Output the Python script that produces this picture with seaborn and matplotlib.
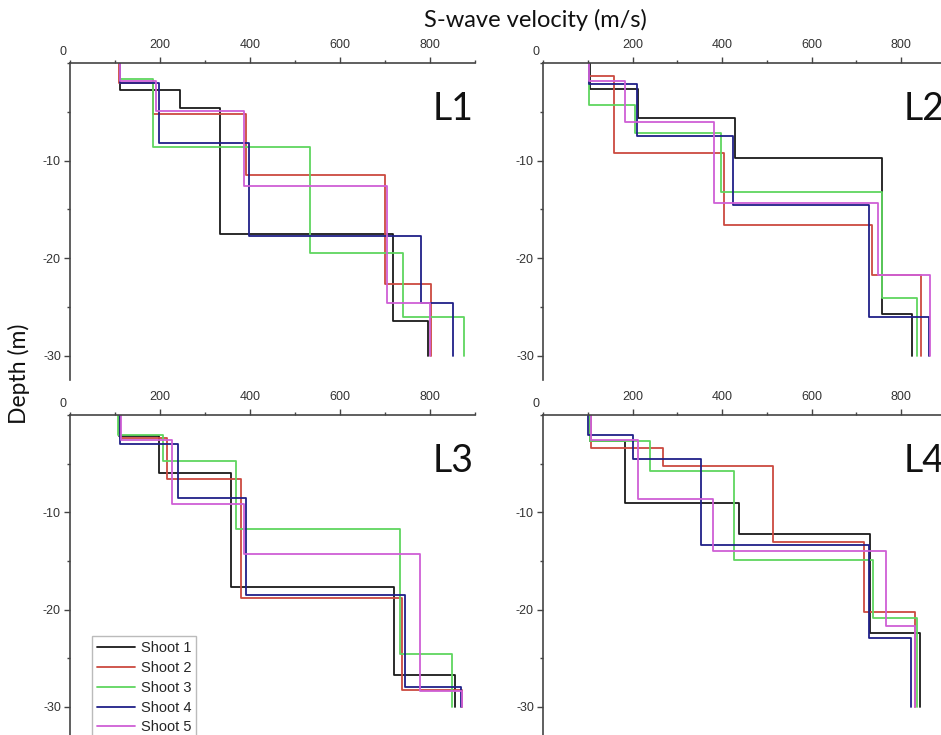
import numpy as np
import pandas as pd
import matplotlib
matplotlib.use("Agg")
import matplotlib.pyplot as plt
from matplotlib.ticker import MultipleLocator
import seaborn as sns

# -----------------------------------------------------
# DATA: layer velocities (m/s) and layer bottom depths (m)
# one row per shoot (Shoot 1..5)
# -----------------------------------------------------

SHOOTS = ["Shoot 1", "Shoot 2", "Shoot 3", "Shoot 4", "Shoot 5"]
COLORS = ["#1a1a1a", "#cc4a40", "#5fd65f", "#202088", "#cf5fd6"]
LINES = ["L1", "L2", "L3", "L4"]

L1_VEL = [[111, 244, 333, 717, 796],
          [108, 185, 390, 700, 803],
          [110, 184, 533, 741, 876],
          [110, 197, 397, 780, 850],
          [110, 191, 387, 704, 801]]
L1_BOT = [[-2.8, -4.6, -17.5, -26.4, -30],
          [-2.1, -5.2, -11.5, -22.7, -30],
          [-1.6, -8.6, -19.5, -26.0, -30],
          [-2.0, -8.2, -17.7, -24.6, -30],
          [-1.8, -4.9, -12.6, -24.6, -30]]

L2_VEL = [[104, 212, 428, 757, 824],
          [103, 159, 404, 734, 845],
          [103, 206, 397, 756, 836],
          [103, 209, 424, 727, 863],
          [103, 183, 382, 749, 865]]
L2_BOT = [[-2.7, -5.6, -9.7, -25.7, -30],
          [-1.3, -9.2, -16.6, -21.7, -30],
          [-4.3, -7.2, -13.2, -24.1, -30],
          [-2.15, -7.45, -14.6, -26.0, -30],
          [-1.8, -6.05, -14.4, -21.7, -30]]

L3_VEL = [[109, 198, 358, 721, 856],
          [110, 215, 379, 737, 870],
          [107, 207, 369, 733, 848],
          [111, 239, 390, 744, 869],
          [114, 226, 387, 778, 872]]
L3_BOT = [[-2.2, -6.0, -17.7, -26.7, -30],
          [-2.4, -6.6, -18.8, -28.3, -30],
          [-2.06, -4.7, -11.7, -24.6, -30],
          [-3.0, -8.5, -18.5, -28.0, -30],
          [-2.6, -9.1, -14.3, -28.4, -30]]

L4_VEL = [[105, 183, 438, 731, 841],
          [107, 267, 513, 716, 830],
          [104, 238, 427, 736, 836],
          [101, 200, 353, 727, 822],
          [108, 213, 379, 766, 831]]
L4_BOT = [[-2.7, -9.0, -12.2, -22.4, -30],
          [-3.4, -5.2, -13.1, -20.3, -30],
          [-2.7, -5.8, -14.9, -20.9, -30],
          [-2.06, -4.55, -13.4, -22.9, -30],
          [-2.6, -8.6, -14.0, -21.7, -30]]

PANEL_DATA = {"L1": (L1_VEL, L1_BOT), "L2": (L2_VEL, L2_BOT),
              "L3": (L3_VEL, L3_BOT), "L4": (L4_VEL, L4_BOT)}


# -----------------------------------------------------
# BUILD STEP PROFILES (velocity vs depth)
# -----------------------------------------------------

def profile_frame(vel_rows, bot_rows):
    rows = []
    for shoot, vel, bot in zip(SHOOTS, vel_rows, bot_rows):
        top = 0
        for v, b in zip(vel, bot):
            rows.append((shoot, v, top))
            rows.append((shoot, v, b))
            top = b
    return pd.DataFrame(rows, columns=["shoot", "velocity", "depth"])


# -----------------------------------------------------
# FIGURE LAYOUT (pixel based, 941 x 735)
# -----------------------------------------------------

sns.set_style("ticks")
plt.rcParams["font.family"] = ["Liberation Sans", "DejaVu Sans"]
plt.rcParams["axes.unicode_minus"] = False

W, H = 941, 735
fig = plt.figure(figsize=(W / 100, H / 100), dpi=100)


def px_axes(x0, y0, w, h):
    return fig.add_axes([x0 / W, 1 - (y0 + h) / H, w / W, h / H])


boxes = {"L1": (70, 63, 405, 317, -32.5),
         "L2": (543, 63, 403, 317, -32.5),
         "L3": (70, 415, 405, 321, -33),
         "L4": (543, 415, 403, 321, -33)}

palette = dict(zip(SHOOTS, COLORS))

for name in LINES:
    x0, y0, w, h, ymin = boxes[name]
    ax = px_axes(x0, y0, w, h)
    ax.set_facecolor("none")
    vel_rows, bot_rows = PANEL_DATA[name]
    df = profile_frame(vel_rows, bot_rows)

    sns.lineplot(data=df, x="velocity", y="depth", hue="shoot",
                 palette=palette, sort=False, estimator=None,
                 linewidth=1.3, ax=ax, legend=(name == "L3"))

    ax.set_xlim(0, 900)
    ax.set_ylim(ymin, 0)
    ax.set_xlabel("")
    ax.set_ylabel("")

    ax.xaxis.set_ticks_position("top")
    ax.set_xticks([200, 400, 600, 800])
    ax.set_yticks([-30, -20, -10])
    ax.xaxis.set_minor_locator(MultipleLocator(100))
    ax.yaxis.set_minor_locator(MultipleLocator(5))
    ax.tick_params(which="major", direction="out", length=4, width=1,
                   color="#444444", labelsize=9, labelcolor="#333333")
    ax.tick_params(which="minor", direction="out", length=2, width=1,
                   color="#444444")
    ax.tick_params(axis="x", which="major", pad=4.5)
    ax.tick_params(axis="y", which="major", pad=2.5)

    for side in ["right", "bottom"]:
        ax.spines[side].set_visible(False)
    for side in ["left", "top"]:
        ax.spines[side].set_color("#444444")
        ax.spines[side].set_linewidth(1.2)

    ax.annotate("0", xy=(0, 0), xytext=(-5, 8), textcoords="offset points",
                ha="center", va="center", fontsize=9, color="#333333")

    ax.text(805, -4.7, name, fontsize=27, family="Lato",
            ha="left", va="center", color="#111111")

    if name == "L3":
        sns.move_legend(ax, "upper left",
                        bbox_to_anchor=(92 / W, 1 - 636 / H),
                        bbox_transform=fig.transFigure,
                        title=None, frameon=True, fancybox=False,
                        edgecolor="#bbbbbb", framealpha=1, fontsize=10.5,
                        handlelength=2.6, handletextpad=0.4,
                        labelspacing=0.4, borderpad=0.35, borderaxespad=0)

fig.text(535 / W, 1 - 20 / H, "S-wave velocity (m/s)", fontsize=17,
         family="Lato", ha="center", va="center", color="#111111")
fig.text(19 / W, 1 - 374 / H, "Depth (m)", fontsize=16.5, family="Lato",
         rotation=90, ha="center", va="center", color="#111111")

fig.savefig("out.png", dpi=100)
